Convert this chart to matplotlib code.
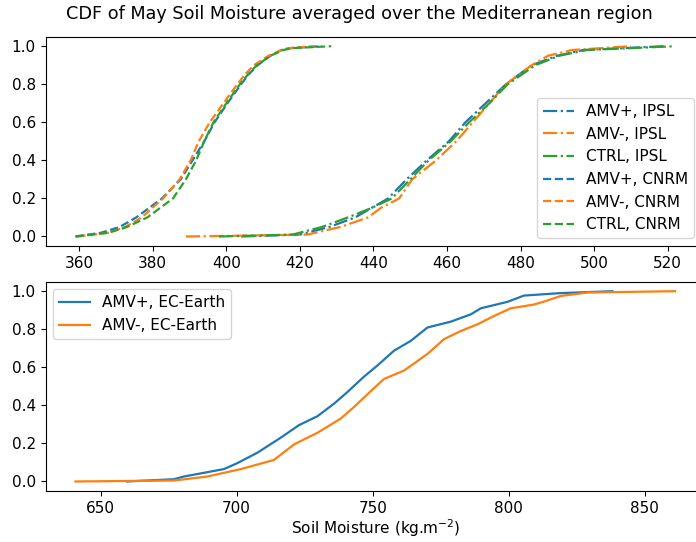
import numpy as np
import matplotlib.pyplot as plt

plt.rcParams['font.size'] = 11
plt.rcParams['lines.linewidth'] = 1.6

# niveis de probabilidade acumulada (CDF) usados para as curvas de cima
niveis_cnrm = [0.0, 0.02, 0.05, 0.1, 0.2, 0.3, 0.4, 0.5, 0.6, 0.7, 0.8, 0.85, 0.9, 0.95, 0.98, 0.99, 1.0]
amvp_cnrm = [359.0, 366.0, 371.0, 375.5, 382.5, 387.6, 390.8, 394.0, 396.8, 400.3, 404.0, 406.0, 408.5, 412.0, 415.0, 417.5, 426.0]
amvm_cnrm = [359.5, 368.0, 372.5, 377.0, 382.8, 387.3, 390.3, 392.5, 395.5, 399.2, 403.0, 405.0, 407.5, 411.5, 415.0, 417.0, 424.0]
ctrl_cnrm = [359.0, 368.0, 373.0, 378.5, 385.5, 389.0, 391.8, 394.0, 396.5, 400.0, 403.7, 405.8, 408.3, 412.0, 415.5, 418.0, 428.5]

niveis_ipsl = [0.0, 0.01, 0.05, 0.1, 0.15, 0.2, 0.3, 0.4, 0.5, 0.6, 0.7, 0.8, 0.9, 0.95, 0.98, 1.0]
amvp_ipsl = [404.0, 420.0, 428.0, 435.0, 439.5, 444.0, 449.0, 454.5, 460.5, 465.0, 470.5, 476.0, 483.0, 490.0, 497.0, 519.0]
amvm_ipsl = [389.0, 422.0, 431.0, 438.5, 442.0, 447.0, 450.5, 457.0, 462.5, 467.0, 471.5, 476.0, 483.0, 487.5, 494.0, 510.0]
ctrl_ipsl = [398.0, 418.0, 426.0, 433.0, 439.5, 445.0, 450.0, 455.0, 461.0, 466.0, 471.5, 476.5, 484.0, 490.5, 498.0, 522.0]

# EC-Earth (x, cdf)
amvp_ec_x = [659.8, 677.0, 680.6, 695.3, 700.2, 707.6, 716.2, 722.9, 729.7, 735.8, 740.7, 746.8, 751.7,
             757.8, 764.0, 770.1, 778.7, 786.0, 789.7, 799.5, 805.6, 819.1, 838.1]
amvp_ec_y = [0.0, 0.012, 0.026, 0.065, 0.096, 0.151, 0.23, 0.296, 0.343, 0.409, 0.47, 0.551, 0.609,
             0.687, 0.739, 0.809, 0.84, 0.878, 0.91, 0.944, 0.977, 0.99, 1.0]
amvm_ec_x = [640.8, 677.0, 689.2, 701.5, 713.7, 721.1, 729.7, 738.2, 743.1, 749.3, 754.2, 761.5, 770.1,
             776.2, 782.4, 788.5, 794.6, 800.7, 809.3, 814.2, 819.1, 829.0, 861.1]
amvm_ec_y = [0.0, 0.005, 0.026, 0.065, 0.113, 0.195, 0.256, 0.33, 0.391, 0.475, 0.539, 0.583, 0.67,
             0.748, 0.791, 0.826, 0.87, 0.91, 0.93, 0.951, 0.975, 0.993, 1.0]

fig = plt.figure(figsize=(6.96, 5.42), dpi=100)
ax1 = fig.add_axes([0.0654, 0.5461, 0.9476, 0.3862])
ax2 = fig.add_axes([0.0654, 0.0941, 0.9476, 0.3862])

# cima: IPSL (traco-ponto) e CNRM (tracejado)
ax1.plot(amvp_ipsl, niveis_ipsl, '-.', color='tab:blue', label='AMV+, IPSL')
ax1.plot(amvm_ipsl, niveis_ipsl, '-.', color='tab:orange', label='AMV-, IPSL')
ax1.plot(ctrl_ipsl, niveis_ipsl, '-.', color='tab:green', label='CTRL, IPSL')
ax1.plot(amvp_cnrm, niveis_cnrm, '--', color='tab:blue', label='AMV+, CNRM')
ax1.plot(amvm_cnrm, niveis_cnrm, '--', color='tab:orange', label='AMV-, CNRM')
ax1.plot(ctrl_cnrm, niveis_cnrm, '--', color='tab:green', label='CTRL, CNRM')
ax1.legend(loc='lower right', bbox_to_anchor=(0.995, 0.0))

# baixo: EC-Earth
ax2.plot(amvp_ec_x, amvp_ec_y, color='tab:blue', label='AMV+, EC-Earth')
ax2.plot(amvm_ec_x, amvm_ec_y, color='tab:orange', label='AMV-, EC-Earth')
ax2.legend(loc='upper left')
ax2.set_xlabel('Soil Moisture (kg.m$^{-2}$)', labelpad=1)

fig.text(0.516, 0.974, 'CDF of May Soil Moisture averaged over the Mediterranean region',
         ha='center', va='center', fontsize=12.7)

fig.savefig('out.png', dpi=100)
